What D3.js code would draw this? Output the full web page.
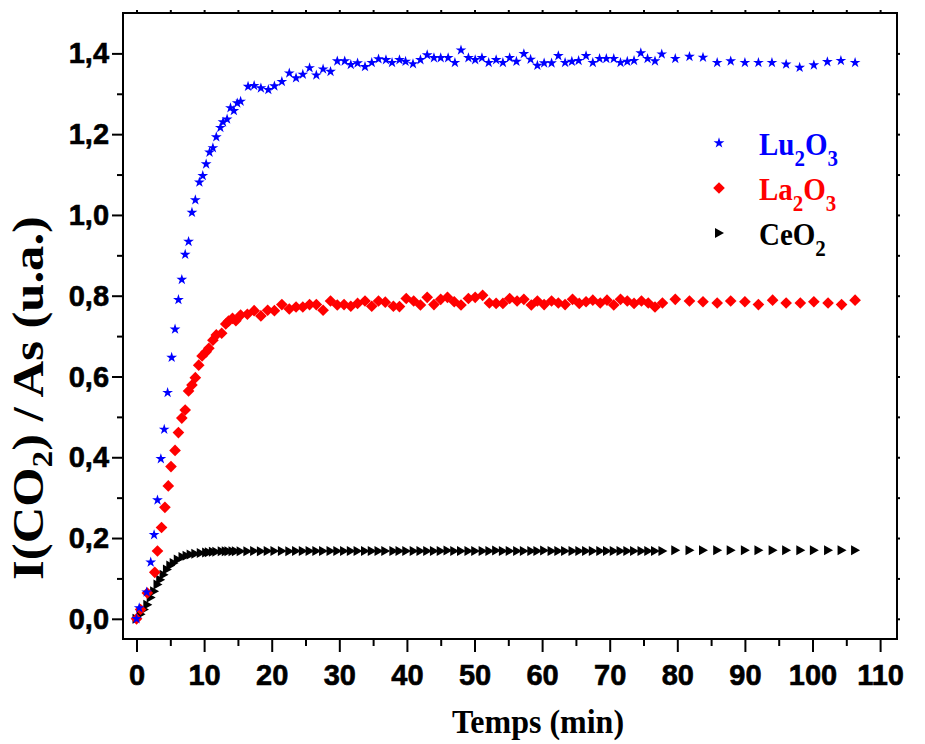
<!DOCTYPE html>
<html><head><meta charset="utf-8">
<script src="https://cdn.jsdelivr.net/npm/d3@7"></script>
<style>body{margin:0;background:#fff}svg{display:block}</style>
</head><body>
<svg id="chart" width="925" height="744"></svg>
<script>
// ---------- DATA ----------
const seriesNames = ["Lu2O3", "La2O3", "CeO2"];
const xTicks = [0,10,20,30,40,50,60,70,80,90,100,110];
const yTicks = [0,0.2,0.4,0.6,0.8,1.0,1.2,1.4];

const luTime = [0,0.4,1.5,2.1,2.6,3.1,3.6,4.1,4.6,5.2,5.7,6.2,6.7,7.2,7.7,8.2,8.7,9.3,9.8,10.3,10.8,11.3,11.8,12.4,12.8,13.4,13.9,14.4,14.9,15.4,
16.5,17.4,18.4,19.5,20.4,21.5,22.6,23.6,24.6,25.6,26.6,27.6,28.7,29.7,30.8,31.7,32.7,33.8,34.8,35.8,36.9,37.8,38.9,39.8,40.9,42.0,43.0,44.0,45.0,46.1,47.1,48.0,49.1,50.1,51.1,52.1,53.2,54.2,55.2,56.2,57.3,58.3,59.3,60.3,61.4,62.4,63.4,64.4,65.4,66.5,67.5,68.5,69.5,70.6,71.6,72.6,73.6,74.6,75.6,76.7,77.7,
79.7,81.8,83.8,85.9,87.9,90.0,92.0,94.0,96.1,98.1,100.2,102.2,104.2,106.3];
const luValue = [0,0.027,0.066,0.140,0.208,0.294,0.396,0.469,0.560,0.647,0.717,0.790,0.840,0.902,0.934,1.006,1.037,1.081,1.097,1.126,1.155,1.166,1.193,1.216,1.230,1.237,1.265,1.258,1.277,1.281,
1.318,1.320,1.314,1.310,1.319,1.330,1.351,1.339,1.348,1.364,1.346,1.361,1.355,1.381,1.381,1.372,1.376,1.367,1.377,1.386,1.384,1.377,1.384,1.380,1.374,1.384,1.396,1.389,1.389,1.389,1.377,1.408,1.389,1.384,1.389,1.377,1.384,1.377,1.389,1.380,1.399,1.385,1.370,1.376,1.376,1.394,1.377,1.380,1.382,1.394,1.377,1.387,1.387,1.387,1.377,1.380,1.382,1.401,1.387,1.381,1.398,
1.387,1.392,1.390,1.377,1.381,1.377,1.377,1.377,1.373,1.365,1.371,1.379,1.382,1.377];

const laTime = [0,0.6,1.6,2.7,3.1,3.7,4.2,4.7,5.1,5.7,6.2,6.7,7.2,7.7,8.2,8.7,9.2,9.7,10.3,10.7,11.3,11.8,12.6,13.2,13.6,14.2,14.7,15.4,
16.4,17.4,18.4,19.4,20.4,21.5,22.6,23.6,24.6,25.6,26.6,27.6,28.7,29.7,30.7,31.7,32.7,33.8,34.8,35.8,36.8,38.0,38.9,39.9,41.0,42.0,43.0,44.0,45.0,46.0,47.0,48.0,49.1,50.1,51.2,52.2,53.2,54.2,55.2,56.3,57.3,58.4,59.3,60.3,61.4,62.4,63.4,64.5,65.5,66.5,67.5,68.6,69.6,70.6,71.6,72.6,73.6,74.7,75.7,76.7,77.8,
79.7,81.8,83.8,85.9,87.9,90.0,92.0,94.1,96.1,98.2,100.2,102.3,104.3,106.3];
const laValue = [0,0.023,0.064,0.115,0.168,0.226,0.276,0.329,0.377,0.417,0.461,0.497,0.517,0.564,0.579,0.597,0.628,0.651,0.661,0.670,0.690,0.703,0.707,0.730,0.737,0.744,0.738,0.752,
0.754,0.763,0.750,0.764,0.763,0.778,0.767,0.772,0.772,0.778,0.778,0.764,0.787,0.777,0.778,0.774,0.781,0.787,0.774,0.787,0.784,0.774,0.773,0.793,0.787,0.777,0.796,0.778,0.791,0.796,0.785,0.777,0.793,0.796,0.801,0.782,0.781,0.781,0.793,0.787,0.791,0.777,0.787,0.778,0.787,0.782,0.778,0.791,0.781,0.785,0.789,0.782,0.789,0.777,0.791,0.787,0.781,0.787,0.782,0.772,0.782,
0.791,0.787,0.785,0.782,0.787,0.785,0.778,0.789,0.782,0.782,0.785,0.782,0.778,0.789];

const ceTime = [0,0.6,1.1,1.6,2.1,2.6,3.1,3.5,4.0,4.5,5.0,5.5,6.1,6.8,7.4,8.0,8.7,9.5,10.3,10.7,11.3,11.8,12.6,13.2,13.6,14.2,14.7,15.4,
16.4,17.4,18.4,19.4,20.4,21.5,22.6,23.6,24.6,25.6,26.6,27.6,28.7,29.7,30.7,31.7,32.7,33.8,34.8,35.8,36.8,38.0,38.9,39.9,41.0,42.0,43.0,44.0,45.0,46.0,47.0,48.0,49.1,50.1,51.2,52.2,53.2,54.2,55.2,56.3,57.3,58.4,59.3,60.3,61.4,62.4,63.4,64.5,65.5,66.5,67.5,68.6,69.6,70.6,71.6,72.6,73.6,74.7,75.7,76.7,77.8,
79.7,81.8,83.8,85.9,87.9,90.0,92.0,94.1,96.1,98.2,100.2,102.3,104.3,106.3];
const ceValue = [0,0.011,0.023,0.035,0.053,0.068,0.085,0.097,0.109,0.122,0.132,0.138,0.147,0.153,0.156,0.159,0.161,0.163,0.164,0.165,0.166,0.166,0.167,0.167,0.167,0.167,0.167,0.167,
0.167,0.168,0.167,0.168,0.168,0.168,0.167,0.168,0.168,0.168,0.168,0.168,0.168,0.168,0.168,0.168,0.168,0.168,0.168,0.168,0.168,0.168,0.168,0.168,0.168,0.168,0.168,0.168,0.168,0.169,0.168,0.168,0.168,0.168,0.168,0.168,0.169,0.168,0.168,0.168,0.168,0.168,0.168,0.169,0.168,0.168,0.168,0.168,0.168,0.168,0.168,0.168,0.168,0.168,0.168,0.168,0.168,0.168,0.168,0.168,0.168,
0.170,0.170,0.170,0.170,0.170,0.170,0.170,0.170,0.170,0.170,0.170,0.170,0.170,0.170];

// ---------- LAYOUT ----------
const svg = d3.select("#chart");
const mLeft = 123, mRight = 897, mTop = 13, mBottom = 639;
const x = d3.scaleLinear().domain([-2, 112.5]).range([mLeft, mRight]);
const y = d3.scaleLinear().domain([-0.05, 1.5]).range([mBottom, mTop]);
const fmt = v => d3.format(".1f")(v).replace(".", ",");
const SANS = "'Liberation Sans', Arial, sans-serif";
const SERIF = "'Liberation Serif', 'Times New Roman', serif";

svg.append("rect").attr("width",925).attr("height",744).attr("fill","#fff");

// ----- axes -----
const minorX = d3.range(0, 111, 5);
const minorY = d3.range(0, 15).map(i => +(i*0.1).toFixed(1));

const gx = svg.append("g").attr("transform",`translate(0,${mBottom})`)
  .call(d3.axisBottom(x).tickValues(xTicks).tickSize(13).tickPadding(4).tickFormat(d3.format("d")));
svg.append("g").attr("transform",`translate(0,${mBottom})`)
  .call(d3.axisBottom(x).tickValues(minorX.filter(v=>v%10)).tickSize(7).tickFormat(""));
const gy = svg.append("g").attr("transform",`translate(${mLeft},0)`)
  .call(d3.axisLeft(y).tickValues(yTicks).tickSize(11).tickPadding(4).tickFormat(fmt));
svg.append("g").attr("transform",`translate(${mLeft},0)`)
  .call(d3.axisLeft(y).tickValues(minorY.filter((v,i)=>i%2)).tickSize(6).tickFormat(""));
// top and right short ticks
svg.append("g").attr("transform",`translate(0,${mTop})`)
  .call(d3.axisTop(x).tickValues(minorX).tickSize(3).tickFormat(""));
svg.append("g").attr("transform",`translate(${mRight},0)`)
  .call(d3.axisRight(y).tickValues(minorY).tickSize(3).tickFormat(""));

svg.selectAll(".domain").remove();
svg.selectAll(".tick line").attr("stroke","#000").attr("stroke-width",2);

gx.selectAll("text").attr("font-family",SANS).attr("font-weight","bold").attr("font-size",29)
  .attr("fill","#000").attr("y",24).attr("transform","scale(1,1.03)")
  .attr("stroke","#000").attr("stroke-width",0.6);
gy.selectAll("text").attr("font-family",SANS).attr("font-weight","bold").attr("font-size",29)
  .attr("fill","#000").attr("x",-14).attr("transform","scale(1,1.03)")
  .attr("stroke","#000").attr("stroke-width",0.6);

// frame
svg.append("rect").attr("x",mLeft).attr("y",mTop).attr("width",mRight-mLeft).attr("height",mBottom-mTop)
  .attr("fill","none").attr("stroke","#000").attr("stroke-width",2);

// axis titles
svg.append("text").attr("transform",`translate(538,733) scale(1,1.08)`)
  .attr("text-anchor","middle").attr("font-family",SERIF).attr("font-weight","bold")
  .attr("font-size",32).text("Temps (min)");

const yt = svg.append("text").attr("transform",`translate(43,398) rotate(-90) scale(1.15,1)`)
  .attr("text-anchor","middle").attr("font-family",SERIF).attr("font-weight","bold")
  .attr("font-size",44);
yt.append("tspan").text("I(CO");
yt.append("tspan").attr("font-size",29).attr("dy",9).text("2");
yt.append("tspan").attr("dy",-9).text(") / As (u.a.)");

// ----- markers -----
const starPath = d3.symbol().type(d3.symbolStar).size(36)();
const diamondPath = d3.symbol().type(d3.symbolSquare).size(68)();
const triPath = "M-4,-5L5,0L-4,5Z";

const series = [
  {name:"CeO2", t:ceTime, v:ceValue, color:"#000", path:triPath, rot:0},
  {name:"La2O3", t:laTime, v:laValue, color:"#ff0000", path:diamondPath, rot:45},
  {name:"Lu2O3", t:luTime, v:luValue, color:"#0000ff", path:starPath, rot:0}
];
series.forEach(s => {
  const pts = s.t.map((t,i)=>({t, v:s.v[i]}));
  svg.append("g").selectAll("path").data(pts).join("path")
    .attr("d", s.path).attr("fill", s.color)
    .attr("transform", d => `translate(${x(d.t)},${y(d.v)}) rotate(${s.rot})`);
});

// ----- legend -----
const legend = [
  {main:["Lu","2","O","3"], color:"#0000ff", path:starPath, rot:0, my:143, base:155},
  {main:["La","2","O","3"], color:"#ff0000", path:diamondPath, rot:45, my:188, base:200},
  {main:["CeO","2"], color:"#000", path:triPath, rot:0, my:233, base:245}
];
legend.forEach(l => {
  svg.append("path").attr("d", l.path).attr("fill", l.color)
    .attr("transform", `translate(719,${l.my}) rotate(${l.rot})`);
  const t = svg.append("text").attr("transform",`translate(759,${l.base}) scale(1,1.1)`)
    .attr("font-family",SERIF).attr("font-weight","bold").attr("font-size",29).attr("fill",l.color);
  l.main.forEach((s,i) => {
    const sub = i % 2 === 1;
    t.append("tspan").attr("font-size", sub ? 21 : 29).attr("dy", sub ? 10 : (i ? -10 : 0)).text(s);
  });
});
</script>
</body></html>
